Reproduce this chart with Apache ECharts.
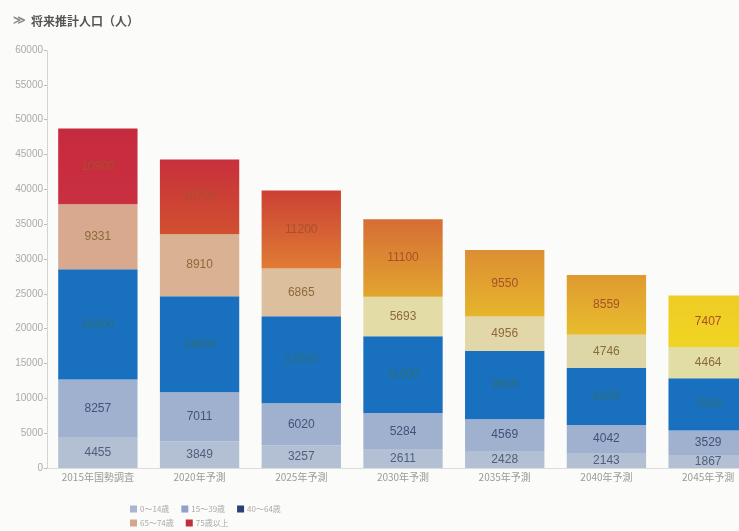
<!DOCTYPE html>
<html>
<head>
<meta charset="utf-8">
<script src="https://cdn.jsdelivr.net/npm/echarts@6/dist/echarts.min.js"></script>
<style>
  html, body { margin: 0; padding: 0; background: #fbfbf9; }
  #chart { width: 739px; height: 531px; }
</style>
</head>
<body>
<div id="chart"></div>
<script>
// 年次
const years = ['2015年国勢調査', '2020年予測', '2025年予測', '2030年予測', '2035年予測', '2040年予測', '2045年予測'];
// 年齢区分ごとの人口（読めない値は図から推定）
const age0to14 = [4455, 3849, 3257, 2611, 2428, 2143, 1867];
const age15to39 = [8257, 7011, 6020, 5284, 4569, 4042, 3529];
const age40to64 = [15800, 13800, 12500, 11000, 9800, 8200, 7500];
const age65to74 = [9331, 8910, 6865, 5693, 4956, 4746, 4464];
const age75plus = [10900, 10700, 11200, 11100, 9550, 8559, 7407];
const groupNames = ['0～14歳', '15～39歳', '40～64歳', '65～74歳', '75歳以上'];
const yTicks = { min: 0, max: 60000, interval: 5000 };

// 年ごとに色が変わる上2段
const tanColors = ['#d8a98e', '#d9b193', '#dcbf9c', '#e3dca6', '#e2d7a8', '#ddd6a6', '#e2dda4'];
const topGradients = [
  ['#c62a3e', '#c93040'],
  ['#c8303c', '#d0502f'],
  ['#cc4034', '#df7c34'],
  ['#d66d36', '#e2a52e'],
  ['#dc8e32', '#e6b52c'],
  ['#df9a30', '#e8bd2e'],
  ['#efcc26', '#f0d422']
];

const chart = echarts.init(document.getElementById('chart'));
const font = "'Liberation Sans Narrow', 'Liberation Sans', sans-serif";
const jpFont = "'Noto Sans CJK JP', sans-serif";

function segLabel(color) {
  return {
    show: true,
    position: 'inside',
    color: color,
    fontSize: 12,
    fontFamily: font
  };
}

chart.setOption({
  backgroundColor: '#fbfbf9',
  title: {
    text: '{a|≫} {b|将来推計人口（人）}',
    left: 8,
    top: 7,
    textStyle: {
      rich: {
        a: { color: '#8a8a8a', fontSize: 12, fontWeight: 'bold' },
        b: { color: '#555', fontSize: 12, fontWeight: 'bold', fontFamily: jpFont }
      }
    }
  },
  legend: [
    {
      data: [
        { name: groupNames[0], itemStyle: { color: '#aab6cf' } },
        { name: groupNames[1], itemStyle: { color: '#8fa3c8' } },
        { name: groupNames[2], itemStyle: { color: '#2b3f78' } }
      ],
      left: 125, top: 500, itemWidth: 7, itemHeight: 7, itemGap: 12,
      icon: 'rect',
      textStyle: { fontSize: 8, color: '#aaa', fontFamily: jpFont, padding: [0, 0, 0, -2] }
    },
    {
      data: [
        { name: groupNames[3], itemStyle: { color: '#d4a68c' } },
        { name: groupNames[4], itemStyle: { color: '#c0303a' } }
      ],
      left: 125, top: 514, itemWidth: 7, itemHeight: 7, itemGap: 12,
      icon: 'rect',
      textStyle: { fontSize: 8, color: '#aaa', fontFamily: jpFont, padding: [0, 0, 0, -2] }
    }
  ],
  // 右端の棒は画面外にはみ出す
  grid: { left: 47, width: 712, top: 50, bottom: 63, outerBoundsMode: 'none' },
  xAxis: {
    type: 'category',
    data: years,
    axisLine: { lineStyle: { color: '#ddd' } },
    axisTick: { show: false },
    axisLabel: { color: '#9a9a9a', fontSize: 10, margin: 4, fontFamily: jpFont }
  },
  yAxis: {
    type: 'value',
    min: yTicks.min,
    max: yTicks.max,
    interval: yTicks.interval,
    axisLine: { show: true, lineStyle: { color: '#ccc', type: 'dotted' } },
    axisTick: { show: true, length: 3, lineStyle: { color: '#bbb' } },
    axisLabel: { color: '#aaa', fontSize: 10, margin: 4, fontFamily: font, formatter: (v) => String(v) },
    splitLine: { show: false }
  },
  series: [
    {
      name: groupNames[0], type: 'bar', stack: 'pop', barWidth: '78%',
      itemStyle: { color: '#b3bfd3' },
      label: segLabel('#4f5f7c'),
      data: age0to14
    },
    {
      name: groupNames[1], type: 'bar', stack: 'pop',
      itemStyle: { color: '#9fb1cf' },
      label: segLabel('#3f5478'),
      data: age15to39
    },
    {
      name: groupNames[2], type: 'bar', stack: 'pop',
      itemStyle: { color: '#1870bf' },
      label: segLabel('#2f6f78'),
      data: age40to64
    },
    {
      name: groupNames[3], type: 'bar', stack: 'pop',
      label: segLabel('#8c6a3a'),
      data: age65to74.map((v, i) => ({ value: v, itemStyle: { color: tanColors[i] } }))
    },
    {
      name: groupNames[4], type: 'bar', stack: 'pop',
      label: segLabel('#a8502a'),
      data: age75plus.map((v, i) => ({
        value: v,
        itemStyle: {
          color: {
            type: 'linear', x: 0, y: 0, x2: 0, y2: 1,
            colorStops: [
              { offset: 0, color: topGradients[i][0] },
              { offset: 1, color: topGradients[i][1] }
            ]
          }
        }
      }))
    }
  ]
});
</script>
</body>
</html>
